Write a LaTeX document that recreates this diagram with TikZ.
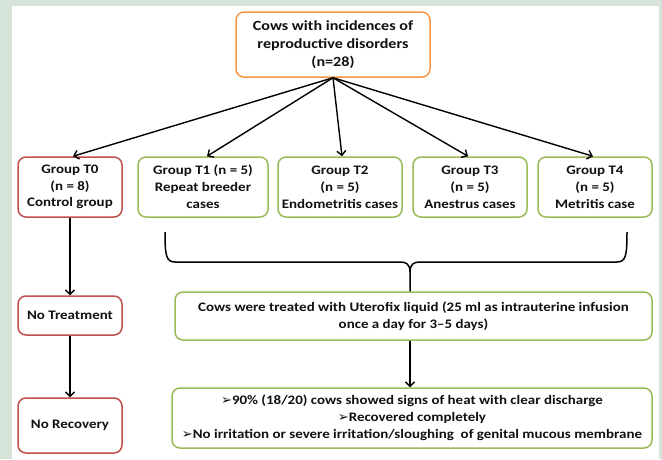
\documentclass[tikz,border=0pt]{standalone}
\usepackage{fontspec}
\setmainfont[FakeStretch=1.15]{Carlito}
\newfontfamily\dvfont{DejaVu Sans}
\usetikzlibrary{arrows.meta,calc}
\definecolor{bgc}{HTML}{D6E4DA}
\definecolor{orangeb}{HTML}{F79646}
\definecolor{greenb}{HTML}{9BBB59}
\definecolor{redb}{HTML}{C0504D}
\definecolor{txt}{HTML}{111111}
\newcommand{\bul}{{\dvfont\fontsize{13}{13}\selectfont ➢}}
\begin{document}
\begin{tikzpicture}[x=1pt,y=-1pt,
  box/.style={draw, line width=1.5pt, rounded corners=8pt, fill=white, align=center,
    inner sep=0pt, text=txt, font=\fontsize{13}{16.8}\selectfont\bfseries},
  obox/.style={box, draw=orangeb, font=\fontsize{14}{18}\selectfont\bfseries},
  gbox/.style={box, draw=greenb},
  rbox/.style={box, draw=redb},
  arr/.style={line width=1.4pt, -{Straight Barb[length=4.5pt,width=9pt,line width=1.4pt]}},
  brace/.style={line width=1.5pt}]
\useasboundingbox (0,0) rectangle (662,459);
\fill[bgc] (0,0) rectangle (662,459);
\fill[white] (12,6) rectangle (659,459);

\node[obox, minimum width=194pt, minimum height=65pt] (top) at (333,44.5)
  {Cows with incidences of\\reproductive disorders\\(n=28)};

\node[rbox, minimum width=104pt, minimum height=60pt] (t0) at (70,187)
  {Group T0\\(n = 8)\\Control group};
\node[gbox, minimum width=130pt, minimum height=60pt] (t1) at (203,187)
  {Group T1 (n = 5)\\Repeat breeder\\cases};
\node[gbox, minimum width=124pt, minimum height=60pt] (t2) at (340,187)
  {Group T2\\(n = 5)\\Endometritis cases};
\node[gbox, minimum width=114pt, minimum height=60pt] (t3) at (470,187)
  {Group T3\\(n = 5)\\Anestrus cases};
\node[gbox, minimum width=114pt, minimum height=60pt] (t4) at (595,187)
  {Group T4\\(n = 5)\\Metritis case};

\node[rbox, minimum width=104pt, minimum height=39pt] (not) at (70,315.5)
  {No Treatment};
\node[rbox, minimum width=104pt, minimum height=55pt] (nor) at (70,425.5)
  {No Recovery};

\node[gbox, minimum width=477pt, minimum height=48pt] (treat) at (413.5,316)
  {Cows were treated with Uterofix liquid (25 ml as intrauterine infusion\\once a day for 3--5 days)};
\node[gbox, minimum width=480pt, minimum height=60pt] (res) at (412,418)
  {\bul 90\%  (18/20) cows showed signs of heat with clear discharge\\
   \bul Recovered completely\\
   \bul No irritation or severe irritation/sloughing\ \ of genital mucous membrane};

\draw[arr] (top.south) -- ([xshift=3pt]t0.north);
\draw[arr] (top.south) -- ([xshift=4pt]t1.north);
\draw[arr] (top.south) -- ([xshift=2pt]t2.north);
\draw[arr] (top.south) -- ([xshift=-2pt]t3.north);
\draw[arr] (top.south) -- ([xshift=-2pt]t4.north);

\draw[arr] (t0.south) -- (not.north);
\draw[arr] (not.south) -- (nor.north);

\coordinate (bl) at (165,232);
\coordinate (br) at (627,232);
\coordinate (bm) at (410,262);
\draw[brace] (bl) .. controls (165,255) and (166,262) .. (175,262) -- (400,262)
  .. controls (406,262) and (410,264) .. (410,272) -- (treat.north -| bm);
\draw[brace] (br) .. controls (627,255) and (626,262) .. (617,262) -- (420,262)
  .. controls (414,262) and (410,264) .. (410,272);

\draw[arr] (treat.south -| bm) -- (res.north -| bm);
\end{tikzpicture}
\end{document}
